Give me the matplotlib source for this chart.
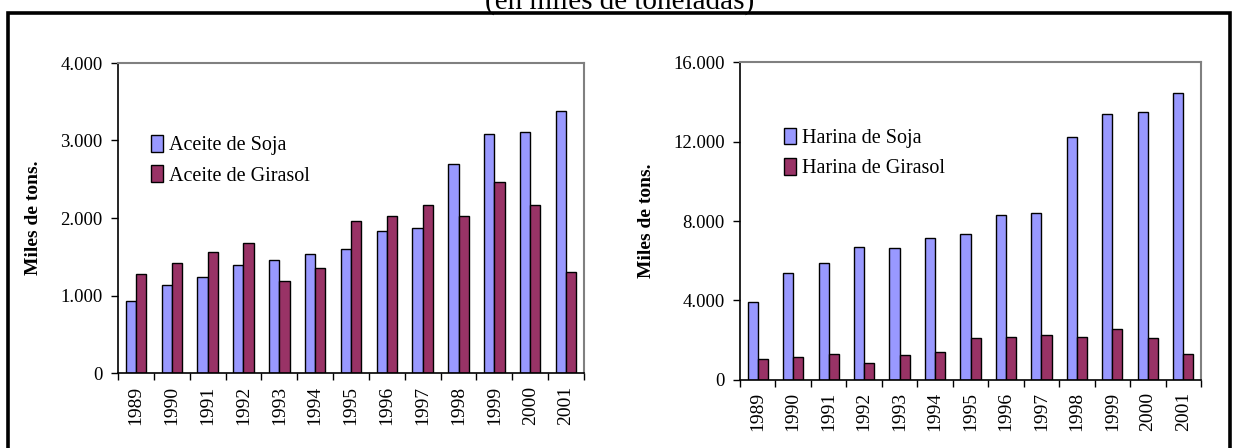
import matplotlib.pyplot as plt
import numpy as np
from matplotlib.patches import Rectangle
from matplotlib.ticker import FuncFormatter, FixedLocator, NullLocator

plt.rcParams['font.family'] = ['Liberation Serif', 'DejaVu Serif']

years = ['1989', '1990', '1991', '1992', '1993', '1994', '1995',
         '1996', '1997', '1998', '1999', '2000', '2001']

aceite_soja = [925, 1140, 1240, 1400, 1460, 1535, 1595, 1830, 1870, 2700, 3090, 3110, 3385]
aceite_girasol = [1280, 1420, 1555, 1675, 1185, 1360, 1965, 2030, 2165, 2030, 2460, 2165, 1300]

harina_soja = [3920, 5390, 5860, 6690, 6640, 7160, 7340, 8320, 8390, 12240, 13400, 13490, 14480]
harina_girasol = [1010, 1160, 1310, 840, 1250, 1380, 2070, 2160, 2240, 2160, 2540, 2070, 1310]

soja_color = '#9999FF'
girasol_color = '#993366'


def miles(v, pos):
    return f'{int(v):,}'.replace(',', '.')


def draw_panel(ax, soja, girasol, labels, ymax, yticks, leg_xy):
    x = np.arange(len(years))
    w = 1 / 3.5
    ax.bar(x - w / 2, soja, w, color=soja_color, edgecolor='black',
           linewidth=1.0, label=labels[0])
    ax.bar(x + w / 2, girasol, w, color=girasol_color, edgecolor='black',
           linewidth=1.0, label=labels[1])
    ax.set_xlim(-0.5, len(years) - 0.5)
    ax.set_ylim(0, ymax)
    ax.set_yticks(yticks)
    ax.yaxis.set_major_formatter(FuncFormatter(miles))
    ax.set_xticks(x)
    ax.set_xticklabels(years, rotation=90, fontsize=14)
    ax.xaxis.set_minor_locator(FixedLocator(np.arange(-0.5, len(years), 1)))
    ax.tick_params(axis='x', which='major', length=0, pad=9)
    ax.tick_params(axis='x', which='minor', length=5, width=1, direction='out')
    ax.tick_params(axis='y', length=5, width=1, direction='out', pad=6, labelsize=13.5)
    ax.yaxis.set_minor_locator(NullLocator())
    for side in ('top', 'right'):
        ax.spines[side].set_color('#808080')
        ax.spines[side].set_linewidth(1.5)
    for side in ('left', 'bottom'):
        ax.spines[side].set_linewidth(1.2)
    ax.set_ylabel('Miles de tons.', fontsize=14, fontweight='bold', labelpad=13)
    ax.legend(loc='upper left', bbox_to_anchor=leg_xy, frameon=False,
              fontsize=14.5, handlelength=0.6, handleheight=0.9,
              handletextpad=0.3, labelspacing=0.5, borderpad=0)


fig = plt.figure(figsize=(12.4, 4.48), dpi=100)

ax1 = fig.add_axes([118 / 1240, 75 / 448, 466 / 1240, 310 / 448])
draw_panel(ax1, aceite_soja, aceite_girasol,
           ['Aceite de Soja', 'Aceite de Girasol'], 4000,
           [0, 1000, 2000, 3000, 4000], (0.05, 0.80))

ax2 = fig.add_axes([740 / 1240, 68.5 / 448, 461 / 1240, 317 / 448])
draw_panel(ax2, harina_soja, harina_girasol,
           ['Harina de Soja', 'Harina de Girasol'], 16000,
           [0, 4000, 8000, 12000, 16000], (0.074, 0.826))

# outer frame, bottom edge runs off the page
fig.patches.append(Rectangle((7.5 / 1240, -0.05), 1222 / 1240, (448 - 13.5) / 448 + 0.05,
                             transform=fig.transFigure, fill=False,
                             edgecolor='black', linewidth=2.6, clip_on=False))

fig.text(0.5, 1 - 9 / 448, '(en miles de toneladas)', ha='center', va='baseline',
         fontsize=21)

fig.savefig('out.png', dpi=100)
